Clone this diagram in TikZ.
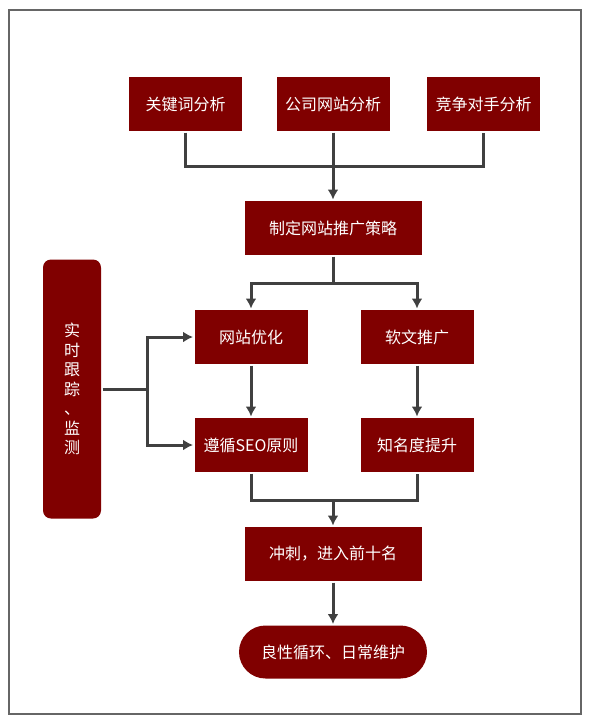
\documentclass[tikz,border=0pt]{standalone}
\usepackage{fontspec}
\newfontfamily\cjk{Noto Sans CJK SC}
\usetikzlibrary{arrows.meta}
\definecolor{boxred}{HTML}{800000}
\definecolor{edge}{HTML}{404040}
\definecolor{frame}{HTML}{666666}

\begin{document}
\begin{tikzpicture}[x=1pt,y=-1pt,->,>={Latex[length=10pt,width=11pt]},
    line width=3pt,draw=edge,
    stepbox/.style={fill=boxred,draw=none,text=white,inner sep=0pt,
      minimum width=113pt,minimum height=54pt,
      font=\cjk\fontsize{16}{19.5}\selectfont},
    widebox/.style={stepbox,minimum width=177pt}]
      \useasboundingbox (0,0) rectangle (591,724);
      \draw[-,frame,line width=2pt] (9,10) rectangle (581,714);
      % analysis
      \node[stepbox] (kw) at (185.5,104) {关键词分析};
      \node[stepbox] (site) at (333,104) {公司网站分析};
      \node[stepbox] (rival) at (483.5,104) {竞争对手分析};
      \node[widebox] (plan) at (333,228) {制定网站推广策略};
      % two ways
      \node[stepbox] (opt) at (251,337) {网站优化};
      \node[stepbox] (soft) at (417,337) {软文推广};
      \node[stepbox] (seo) at (251,445) {遵循SEO原则};
      \node[stepbox] (fame) at (417,445) {知名度提升};
      \node[widebox] (rush) at (333,554) {冲刺，进入前十名};
      \node[widebox,minimum width=188pt,minimum height=53pt,
        rounded corners=26.5pt] (loop) at (333,652) {良性循环、日常维护};
      \node[stepbox,minimum width=58pt,minimum height=259pt,
        rounded corners=8pt,align=center] (watch) at (72,389)
        {实\\时\\跟\\踪\\、\\监\\测};
      % joints
      \coordinate (j1) at (333,166);
      \coordinate (j2) at (333,283);
      \coordinate (j3) at (333,500);
      \coordinate (j4) at (147,389);
      \draw[-] (kw.south) |- (j1) -| (rival.south);
      \draw[-] (site.south) -- (j1);
      \draw (j1) -- (plan.north);
      \draw[-] (plan.south) -- (j2);
      \draw (j2) -| (opt.north);
      \draw (j2) -| (soft.north);
      \draw (opt) -- (seo);
      \draw (soft) -- (fame);
      \draw[-] (seo.south) |- (j3) -| (fame.south);
      \draw (j3) -- (rush.north);
      \draw (rush) -- (loop);
      \draw[-] (watch.east |- j4) -- (j4);
      \draw (j4) |- (opt.west);
      \draw (j4) |- (seo.west);
    \end{tikzpicture}
\end{document}
